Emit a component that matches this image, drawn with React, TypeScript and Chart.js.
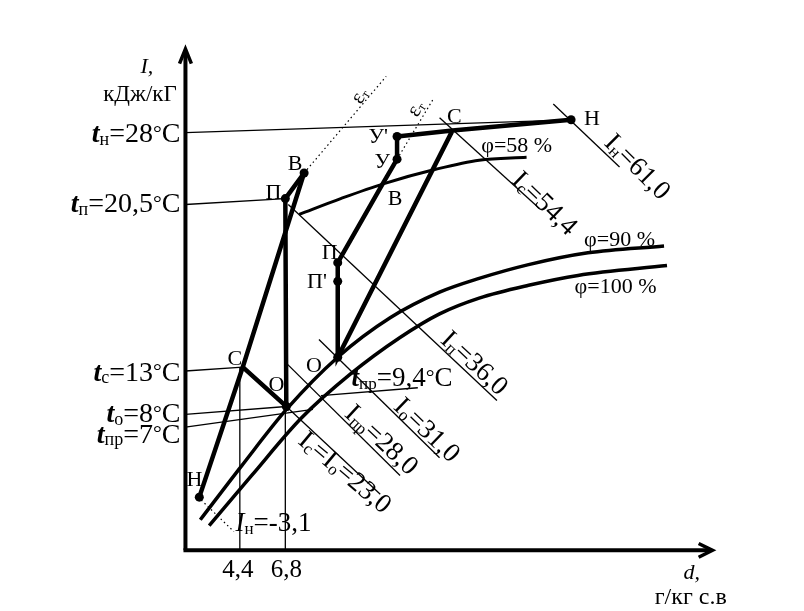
import React, { useEffect, useRef } from "react";
import { Chart, registerables } from "chart.js";
Chart.register(...registerables);

// ---------- Diagram values (drawing units of the I-d chart: x = d, y = I downward) ----------
// relative humidity curves
const phi100X = [207, 250, 300, 350, 400, 440, 480, 530, 580, 670];
const phi100Y = [529, 478, 420, 375, 338, 314, 298, 285, 275, 265];
const phi90X = [198, 240, 286, 337, 390, 440, 480, 530, 590, 667];
const phi90Y = [523, 468, 410, 358, 318, 292, 278, 264, 252, 245];
const phi58X = [298, 340, 383, 437, 480, 528];
const phi58Y = [213, 197, 182, 167, 158, 155];

// cold period process: Н – С – В (mixing) and С – О – П – В
const coldMixX = [197, 241, 303];
const coldMixY = [500, 368, 171];
const coldProcX = [241, 285, 284, 303];
const coldProcY = [368, 408, 197, 171];
const coldDotX = [197, 284, 303, 285];
const coldDotY = [500, 197, 171, 408];

// warm period process: Н – С – У' – У – В – П – П' – О – С
const warmProcX = [573, 453, 397, 397, 383, 337, 337, 337, 453];
const warmProcY = [117, 128, 134, 157, 181, 262, 281, 358, 128];
const warmDotX = [573, 397, 397, 337, 337, 337];
const warmDotY = [117, 134, 157, 262, 281, 358];

// isotherms (t = const)
const tNx = [183, 573], tNy = [130, 117];
const tPx = [183, 284], tPy = [203, 197];
const tCx = [183, 241], tCy = [372, 368];
const tOx = [183, 285], tOy = [416, 408];
const tPrX = [183, 312], tPrY = [429, 411];
const tPr94X = [320, 418], tPr94Y = [397, 389];
// d = const
const d44X = [238, 238], d44Y = [368, 554];
const d68X = [284, 284], d68Y = [408, 554];
// enthalpy lines (I = const)
const iNx = [555, 622], iNy = [101, 165];
const iCx = [440, 541], iCy = [115, 207];
const iPx = [287, 498], iPy = [203, 402];
const iOx = [318, 440], iOy = [340, 460];
const iPrX = [286, 400], iPrY = [365, 478];
const iCOx = [285, 380], iCOy = [408, 497];
const iNcoldX = [199, 232], iNcoldY = [503, 535];
// heat-moisture ratio rays
const eps1X = [303, 386], eps1Y = [171, 73];
const eps2X = [397, 433], eps2Y = [157, 97];

// axes
const yAxisX = [183, 183], yAxisY = [554, 47];
const yArrowX = [177, 183, 189], yArrowY = [60, 45, 60];
const xAxisX = [181, 714], xAxisY = [554, 554];
const xArrowX = [702, 716, 702], xArrowY = [547, 554, 561];

// texts: "bi:" bold italic, "i:" italic, "s:" subscript, "d:" degree sign
const yTickTexts = ["bi:t|s:н|=28|d:°|C", "bi:t|s:п|=20,5|d:°|C", "bi:t|s:с|=13|d:°|C", "bi:t|s:о|=8|d:°|C", "bi:t|s:пр|=7|d:°|C"];
const xTickTexts = ["4,4", "6,8"];

// ---------- layout of texts ----------
const FONT = '"Liberation Serif"';
type Lbl = [string, number, number, number, "left" | "center" | "right", number];
const labels: Lbl[] = [
  ["i:I,", 144, 62, 22, "center", 0],
  ["кДж/кГ", 137, 90, 23, "center", 0],
  [yTickTexts[0], 178, 130, 28, "right", 0],
  [yTickTexts[1], 178, 201, 28, "right", 0],
  [yTickTexts[2], 178, 372, 28, "right", 0],
  [yTickTexts[3], 178, 414, 28, "right", 0],
  [yTickTexts[4], 178, 435, 28, "right", 0],
  [xTickTexts[0], 236, 572, 25, "center", 0],
  [xTickTexts[1], 285, 572, 25, "center", 0],
  ["i:d,", 695, 575, 22, "center", 0],
  ["г/кг с.в", 694, 600, 24, "center", 0],
  ["Н", 192, 481, 22, "center", 0],
  ["С", 233, 358, 22, "center", 0],
  ["О", 275, 385, 22, "center", 0],
  ["П", 272, 190, 22, "center", 0],
  ["В", 294, 160, 22, "center", 0],
  ["У'", 378, 133, 22, "center", 0],
  ["У", 382, 158, 22, "center", 0],
  ["В", 395, 196, 22, "center", 0],
  ["С", 455, 113, 22, "center", 0],
  ["Н", 594, 115, 22, "center", 0],
  ["П", 329, 251, 22, "center", 0],
  ["П'", 316, 280, 22, "center", 0],
  ["О", 313, 365, 22, "center", 0],
  ["φ=58 %", 518, 142, 22, "center", 0],
  ["φ=90 %", 622, 238, 22, "center", 0],
  ["φ=100 %", 618, 285, 22, "center", 0],
  ["bi:t|s:пр|=9,4|d:°|C", 402, 378, 27, "center", 0],
  ["i:I|s:н|=-3,1", 272, 525, 27, "center", 0],
  ["I|s:н|=61,0", 641, 164, 27, "center", 45],
  ["I|s:с|=54,4", 547, 201, 27, "center", 44],
  ["I|s:п|=36,0", 476, 363, 27, "center", 43],
  ["I|s:о|=31,0", 428, 431, 27, "center", 44],
  ["I|s:пр|=28,0", 382, 441, 27, "center", 43],
  ["I|s:с|=I|s:о|=23,0", 345, 474, 27, "center", 40],
  ["ε|s:т", 358, 92, 21, "center", -58],
  ["ε|s:т", 415, 105, 21, "center", -58],
];

function parseRich(s: string) {
  return s.split("|").map((seg) => {
    const m = seg.match(/^(bi|i|s|d):(.*)$/);
    return m ? { k: m[1], t: m[2] } : { k: "n", t: seg };
  });
}

function drawRich(ctx: CanvasRenderingContext2D, text: string, x: number, y: number, size: number, align: string, angle: number) {
  const runs = parseRich(text);
  const fam = `${FONT}, "Times New Roman", serif`;
  const fontFor = (k: string) => {
    if (k === "bi") return `italic bold ${size}px ${fam}`;
    if (k === "i") return `italic ${size}px ${fam}`;
    if (k === "s") return `${Math.round(size * 0.64)}px ${fam}`;
    if (k === "d") return `${Math.round(size * 0.8)}px ${fam}`;
    return `${size}px ${fam}`;
  };
  const dyFor = (k: string) => (k === "s" ? size * 0.1 : k === "d" ? -size * 0.08 : 0);
  ctx.save();
  ctx.translate(x, y);
  ctx.rotate((angle * Math.PI) / 180);
  ctx.fillStyle = "#000";
  ctx.textBaseline = "alphabetic";
  ctx.textAlign = "left";
  const widths = runs.map((r) => {
    ctx.font = fontFor(r.k);
    return ctx.measureText(r.t).width;
  });
  const total = widths.reduce((a, b) => a + b, 0);
  let cx = align === "right" ? -total : align === "center" ? -total / 2 : 0;
  const base = size * 0.34;
  runs.forEach((r, i) => {
    ctx.font = fontFor(r.k);
    ctx.fillText(r.t, cx, base + dyFor(r.k));
    cx += widths[i];
  });
  ctx.restore();
}

const textPlugin = {
  id: "diagramTexts",
  afterDatasetsDraw(chart: any) {
    const { ctx, scales } = chart;
    labels.forEach(([t, lx, ly, size, align, angle]) => {
      drawRich(ctx, t, scales.x.getPixelForValue(lx), scales.y.getPixelForValue(ly), size, align, angle);
    });
  },
};

function pts(xs: number[], ys: number[]) {
  return xs.map((x, i) => ({ x, y: ys[i] }));
}
function line(xs: number[], ys: number[], width: number, extra: any = {}) {
  return {
    data: pts(xs, ys),
    showLine: true,
    borderColor: "#000",
    backgroundColor: "#000",
    borderWidth: width,
    pointRadius: 0,
    fill: false,
    tension: 0,
    borderCapStyle: "butt",
    borderJoinStyle: "miter",
    ...extra,
  };
}
function dots(xs: number[], ys: number[], r: number) {
  return {
    data: pts(xs, ys),
    showLine: false,
    pointRadius: r,
    pointBackgroundColor: "#000",
    pointBorderWidth: 0,
    borderColor: "#000",
  };
}

export default function App() {
  const ref = useRef<HTMLCanvasElement>(null);
  useEffect(() => {
    document.body.style.margin = "0";
    const curve = { cubicInterpolationMode: "monotone" };
    const dotted = { borderDash: [1.5, 3] };
    const chart = new Chart(ref.current as HTMLCanvasElement, {
      type: "scatter",
      data: {
        datasets: [
          line(yAxisX, yAxisY, 4),
          line(yArrowX, yArrowY, 3.5),
          line(xAxisX, xAxisY, 4),
          line(xArrowX, xArrowY, 3.5),
          line(phi100X, phi100Y, 3.5, curve),
          line(phi90X, phi90Y, 3.5, curve),
          line(phi58X, phi58Y, 3, curve),
          line(tNx, tNy, 1.3),
          line(tPx, tPy, 1.3),
          line(tCx, tCy, 1.3),
          line(tOx, tOy, 1.3),
          line(tPrX, tPrY, 1.3),
          line(tPr94X, tPr94Y, 1.3),
          line(d44X, d44Y, 1.3),
          line(d68X, d68Y, 1.3),
          line(iNx, iNy, 1.3),
          line(iCx, iCy, 1.3),
          line(iPx, iPy, 1.3),
          line(iOx, iOy, 1.3),
          line(iPrX, iPrY, 1.3),
          line(iCOx, iCOy, 1.3),
          line(iNcoldX, iNcoldY, 1.2, dotted),
          line(eps1X, eps1Y, 1.2, dotted),
          line(eps2X, eps2Y, 1.2, dotted),
          line(coldMixX, coldMixY, 4.5),
          line(coldProcX, coldProcY, 4.5),
          line(warmProcX, warmProcY, 4.5),
          dots(coldDotX, coldDotY, 4.5),
          dots(warmDotX, warmDotY, 4.5),
        ] as any,
      },
      options: {
        animation: false,
        responsive: true,
        maintainAspectRatio: false,
        layout: { padding: 0 },
        plugins: { legend: { display: false }, tooltip: { enabled: false } },
        scales: {
          x: { type: "linear", min: 0, max: 804, display: false },
          y: { type: "linear", min: 0, max: 611, reverse: true, display: false },
        },
      },
      plugins: [textPlugin],
    });
    let alive = true;
    const fonts: any = (document as any).fonts;
    if (fonts && fonts.load) {
      Promise.all([
        fonts.load(`20px ${FONT}`, "кДж0"),
        fonts.load(`italic 20px ${FONT}`, "Id"),
        fonts.load(`italic bold 20px ${FONT}`, "t"),
      ]).then(() => {
        if (alive) chart.update();
      }).catch(() => {});
    }
    return () => {
      alive = false;
      chart.destroy();
    };
  }, []);
  return (
    <div style={{ position: "absolute", left: 0, top: 0, width: 804, height: 611, background: "#fff" }}>
      <canvas ref={ref} />
    </div>
  );
}
